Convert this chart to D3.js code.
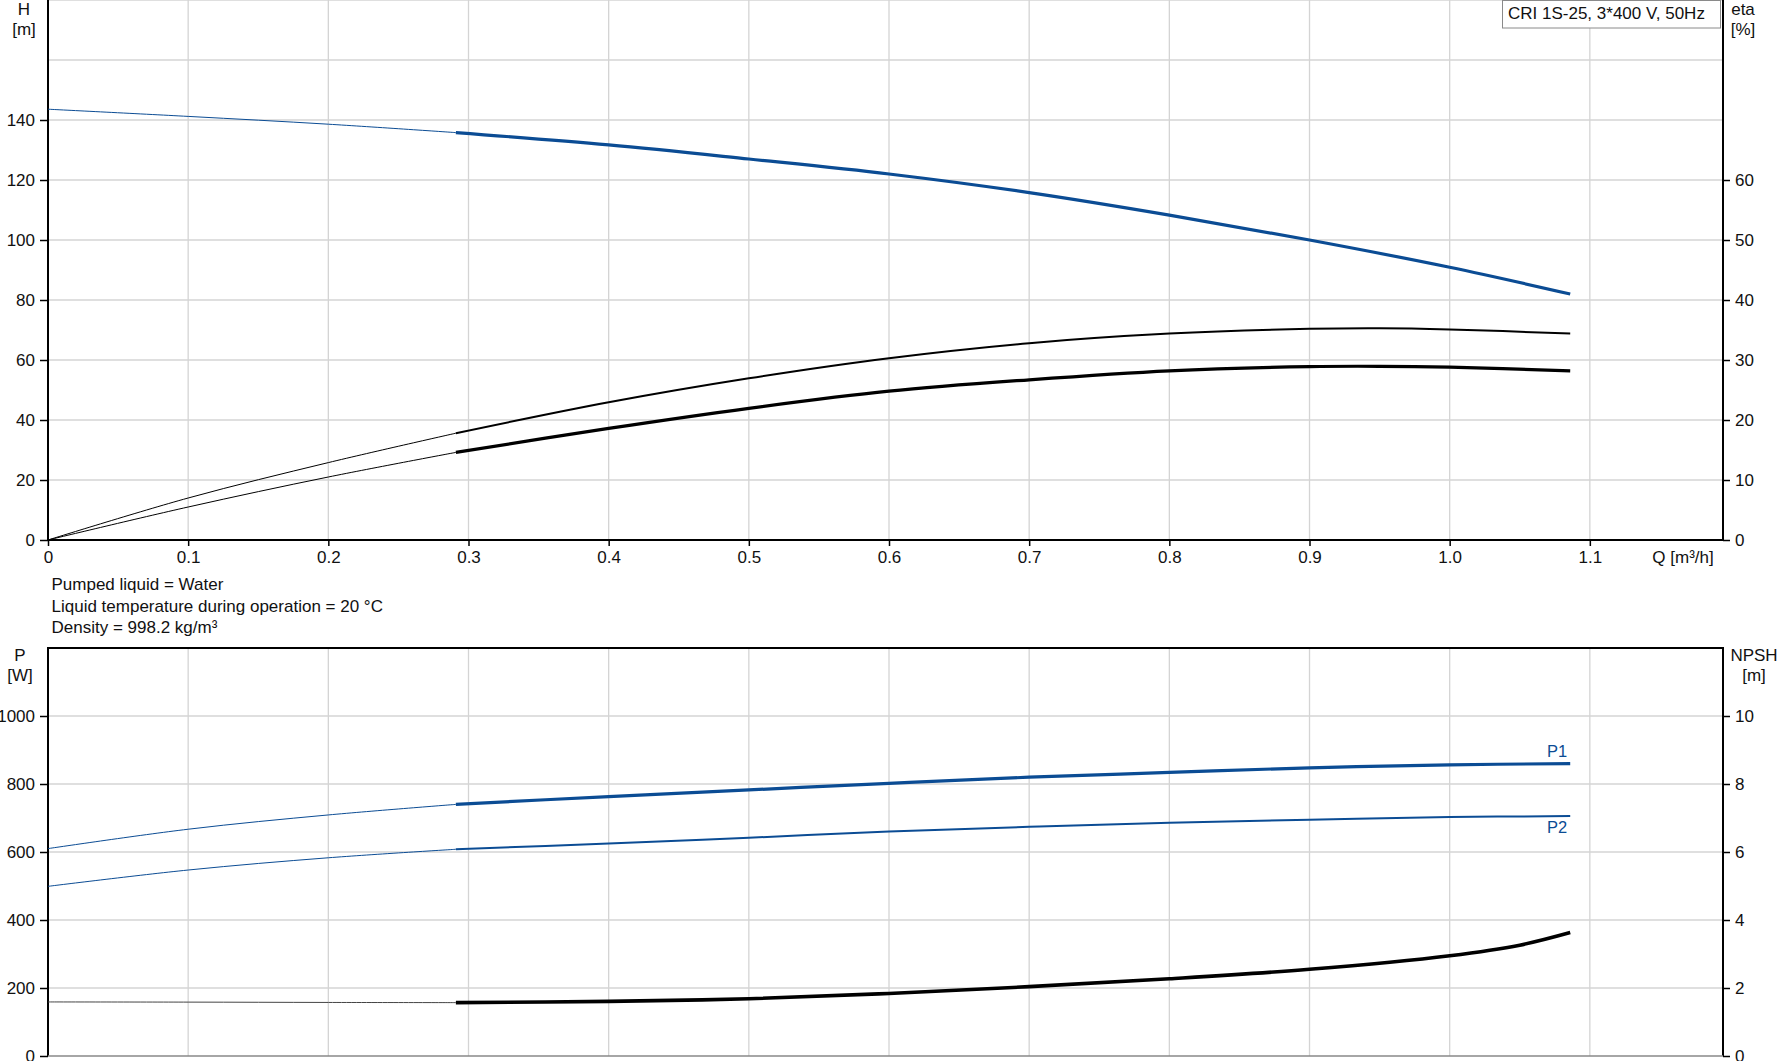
<!DOCTYPE html>
<html>
<head>
<meta charset="utf-8">
<script src="https://cdn.jsdelivr.net/npm/d3@7"></script>
<style>
  html, body { margin: 0; padding: 0; background: #fff; }
  svg { display: block; font-family: "Liberation Sans", Arial, sans-serif; }
</style>
</head>
<body>
<svg id="chart" width="1777" height="1061"></svg>
<script>
// ---------- data ----------
const Q_TICKS = [0, 0.1, 0.2, 0.3, 0.4, 0.5, 0.6, 0.7, 0.8, 0.9, 1.0, 1.1];
const Q_MAX = 1.195;
const H_TICKS = [0, 20, 40, 60, 80, 100, 120, 140];
const H_GRID = [20, 40, 60, 80, 100, 120, 140, 160, 180];
const ETA_TICKS = [0, 10, 20, 30, 40, 50, 60];
const P_TICKS = [0, 200, 400, 600, 800, 1000];
const P_GRID = [200, 400, 600, 800, 1000];
const NPSH_TICKS = [0, 2, 4, 6, 8, 10];

// Head H [m]
const Q_THIN = [0, 0.1, 0.2, 0.291];
const Q_OP = [0.291, 0.4, 0.5, 0.6, 0.7, 0.8, 0.9, 1.0, 1.086];
const H_THIN = [143.6, 141.2, 138.6, 135.8];
const H_OP = [135.8, 131.7, 127.0, 122.0, 115.8, 108.3, 100.0, 90.9, 82.0];

// Efficiencies eta [%]
const Q_ETA_OP = [0.291, 0.4, 0.5, 0.6, 0.7, 0.8, 0.9, 0.95, 1.0, 1.086];
const ETA_PUMP_THIN = [0, 7.0, 12.9, 17.8];
const ETA_PUMP_OP = [17.8, 22.95, 26.95, 30.3, 32.8, 34.4, 35.2, 35.3, 35.1, 34.4];
const ETA_TOT_THIN = [0, 5.5, 10.5, 14.6];
const ETA_TOT_OP = [14.6, 18.6, 21.95, 24.8, 26.7, 28.2, 28.9, 28.95, 28.8, 28.2];

// Power P1, P2 [W]
const P1_THIN = [610, 667, 709, 740];
const P1_OP = [740, 763, 782.5, 802, 820, 834, 847.7, 856.4, 860];
const P2_THIN = [499, 547, 583, 608];
const P2_OP = [608, 625, 642, 660, 674, 686, 695, 702.7, 705.6];

// NPSH [m]
const Q_NPSH_OP = [0.291, 0.4, 0.5, 0.6, 0.7, 0.8, 0.9, 1.0, 1.05, 1.086];
const NPSH_THIN = [1.59, 1.585, 1.575, 1.57];
const NPSH_OP = [1.57, 1.606, 1.684, 1.84, 2.04, 2.27, 2.55, 2.95, 3.26, 3.63];

const TITLE = "CRI 1S-25, 3*400 V, 50Hz";
const INFO = ["Pumped liquid = Water", "Liquid temperature during operation = 20 °C", "Density = 998.2 kg/m³"];

// ---------- layout ----------
const BLUE = "#0b4c94";
const GRID = "#d4d4d4";
const FS = "17px";
const L = 48, R = 1723;
const TOP1 = 0, BOT1 = 540;
const TOP2 = 648, BOT2 = 1056;

const svg = d3.select("#chart");

const x = d3.scaleLinear().domain([0, Q_MAX]).range([L, R]);
const yH = d3.scaleLinear().domain([0, 180]).range([BOT1, TOP1]);
const yEta = d3.scaleLinear().domain([0, 90]).range([BOT1, TOP1]);
const yP = d3.scaleLinear().domain([0, 1200]).range([BOT2, TOP2]);
const yN = d3.scaleLinear().domain([0, 12]).range([BOT2, TOP2]);

const zip = (a, b) => a.map((v, i) => [v, b[i]]);

// ---------- grids ----------
function vGrid(top, bot) {
  svg.append("g").selectAll("line").data(Q_TICKS.filter(d => d > 0)).join("line")
    .attr("x1", d => x(d)).attr("x2", d => x(d))
    .attr("y1", top).attr("y2", bot)
    .attr("stroke", GRID).attr("stroke-width", 1.3);
}
vGrid(TOP1, BOT1);
vGrid(TOP2, BOT2);
svg.append("g").selectAll("line").data(H_GRID).join("line")
  .attr("x1", L).attr("x2", R).attr("y1", d => yH(d)).attr("y2", d => yH(d))
  .attr("stroke", GRID).attr("stroke-width", 1.3);
svg.append("g").selectAll("line").data(P_GRID).join("line")
  .attr("x1", L).attr("x2", R).attr("y1", d => yP(d)).attr("y2", d => yP(d))
  .attr("stroke", GRID).attr("stroke-width", 1.3);

// ---------- axes ----------
function styleAxis(g) {
  g.selectAll("text").attr("font-size", FS).attr("fill", "#111").attr("font-family", "'Liberation Sans', Arial, sans-serif");
  g.selectAll("line").attr("stroke", "#000").attr("stroke-width", 1.5);
  g.select(".domain").remove();
}
svg.append("g").attr("transform", `translate(${L},0)`)
  .call(d3.axisLeft(yH).tickValues(H_TICKS).tickSize(8).tickPadding(5).tickFormat(d3.format("d")))
  .call(styleAxis);
svg.append("g").attr("transform", `translate(${R},0)`)
  .call(d3.axisRight(yEta).tickValues(ETA_TICKS).tickSize(7).tickPadding(5).tickFormat(d3.format("d")))
  .call(styleAxis);
svg.append("g").attr("transform", `translate(0,${BOT1})`)
  .call(d3.axisBottom(x).tickValues(Q_TICKS).tickSize(6).tickPadding(5)
    .tickFormat(d => d === 0 ? "0" : d.toFixed(1)))
  .call(styleAxis);
svg.append("g").attr("transform", `translate(${L},0)`)
  .call(d3.axisLeft(yP).tickValues(P_TICKS).tickSize(8).tickPadding(5).tickFormat(d3.format("d")))
  .call(styleAxis);
svg.append("g").attr("transform", `translate(${R},0)`)
  .call(d3.axisRight(yN).tickValues(NPSH_TICKS).tickSize(7).tickPadding(5).tickFormat(d3.format("d")))
  .call(styleAxis);

// frame lines
const frame = svg.append("g").attr("stroke", "#000").attr("stroke-width", 2).attr("fill", "none");
frame.append("line").attr("x1", L).attr("x2", L).attr("y1", TOP1).attr("y2", BOT1);
frame.append("line").attr("x1", R).attr("x2", R).attr("y1", TOP1).attr("y2", BOT1);
frame.append("line").attr("x1", L - 1).attr("x2", R + 1).attr("y1", BOT1).attr("y2", BOT1);
frame.append("line").attr("x1", L).attr("x2", L).attr("y1", TOP2).attr("y2", BOT2);
frame.append("line").attr("x1", R).attr("x2", R).attr("y1", TOP2).attr("y2", BOT2);
frame.append("line").attr("x1", L - 1).attr("x2", R + 1).attr("y1", TOP2).attr("y2", TOP2);
svg.append("line").attr("x1", L).attr("x2", R).attr("y1", BOT2).attr("y2", BOT2)
  .attr("stroke", "#888").attr("stroke-width", 1.5);

// ---------- curves ----------
function curve(yScale, qs, vs, color, width) {
  const line = d3.line().x(d => x(d[0])).y(d => yScale(d[1])).curve(d3.curveCatmullRom.alpha(0.5));
  svg.append("path").datum(zip(qs, vs)).attr("d", line)
    .attr("fill", "none").attr("stroke", color).attr("stroke-width", width)
    .attr("stroke-linejoin", "round");
}
curve(yH, Q_THIN, H_THIN, BLUE, 1);
curve(yH, Q_OP, H_OP, BLUE, 3.2);
curve(yEta, Q_THIN, ETA_PUMP_THIN, "#000", 1);
curve(yEta, Q_ETA_OP, ETA_PUMP_OP, "#000", 2);
curve(yEta, Q_THIN, ETA_TOT_THIN, "#000", 1);
curve(yEta, Q_ETA_OP, ETA_TOT_OP, "#000", 3.2);
curve(yP, Q_THIN, P1_THIN, BLUE, 1);
curve(yP, Q_OP, P1_OP, BLUE, 3.2);
curve(yP, Q_THIN, P2_THIN, BLUE, 1);
curve(yP, Q_OP, P2_OP, BLUE, 2);
curve(yN, Q_THIN, NPSH_THIN, "#444", 1);
curve(yN, Q_NPSH_OP, NPSH_OP, "#000", 3.6);

// ---------- texts ----------
function txt(t, xx, yy, anchor, color, size) {
  svg.append("text").attr("x", xx).attr("y", yy).attr("text-anchor", anchor || "start")
    .attr("fill", color || "#111").attr("font-size", size || FS).text(t);
}
txt("H", 24, 15, "middle");
txt("[m]", 24, 35, "middle");
txt("eta", 1743, 15, "middle");
txt("[%]", 1743, 35, "middle");
txt("Q [m³/h]", 1683, 563, "middle");
txt("P", 20, 661, "middle");
txt("[W]", 20, 681, "middle");
txt("NPSH", 1754, 661, "middle");
txt("[m]", 1754, 681, "middle");
INFO.forEach((t, i) => txt(t, 51.5, [589.5, 611.5, 632.5][i], "start"));
txt("P1", x(1.086) - 13, 757, "middle", BLUE, "16.5px");
txt("P2", x(1.086) - 13, 833, "middle", BLUE, "16.5px");

// legend box
svg.append("rect").attr("x", 1502.5).attr("y", 0.5).attr("width", 218).attr("height", 27.5)
  .attr("fill", "#fff").attr("stroke", "#8a8a8a").attr("stroke-width", 1);
txt(TITLE, 1508, 19, "start");
</script>
</body>
</html>
